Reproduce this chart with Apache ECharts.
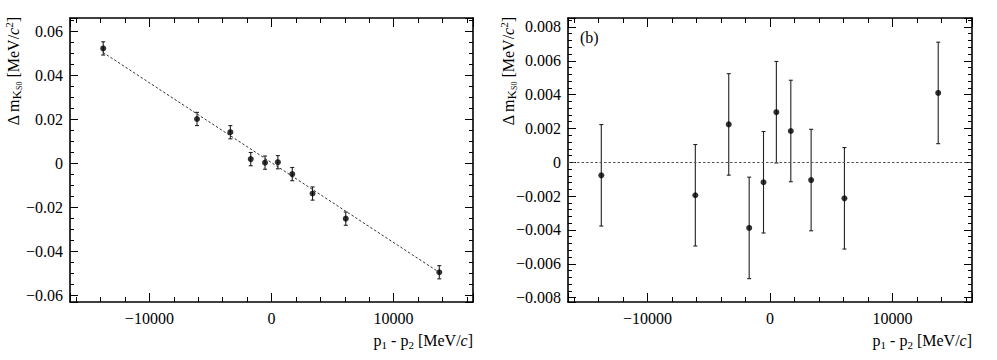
<!DOCTYPE html>
<html>
<head>
<meta charset="utf-8">
<script src="https://cdn.jsdelivr.net/npm/echarts@6/dist/echarts.min.js"></script>
<style>
  html, body { margin: 0; padding: 0; background: #fff; }
  #main { width: 997px; height: 360px; }
</style>
</head>
<body>
<div id="main"></div>
<script>
// p1 - p2 bin centres [MeV/c], same bins in both panels
const momentumDiff = [-13780, -6100, -3370, -1700, -530, 520, 1700, 3360, 6080, 13740]
// panel (a): mass difference before correction
const massDiffA = [0.0521, 0.0201, 0.0141, 0.0019, 0.0003, 0.0005, -0.0049, -0.0137, -0.0251, -0.0494]
const errA = [0.003, 0.003, 0.003, 0.003, 0.003, 0.003, 0.003, 0.003, 0.003, 0.003]
// linear fit drawn over panel (a)
const fitX = [-13800, 13800]
const fitY = [0.0503, -0.0497]
// panel (b): after correction
const massDiffB = [-0.00077, -0.00195, 0.00224, -0.00388, -0.00118, 0.00296, 0.00185, -0.00105, -0.00213, 0.0041]
const errB = [0.003, 0.003, 0.003, 0.003, 0.003, 0.003, 0.003, 0.003, 0.003, 0.003]

const xRange = [-16500, 16500]
const yRangeA = [-0.0629, 0.0659]
const yRangeB = [-0.00826, 0.00853]

const serif = '"Liberation Serif", "DejaVu Serif", serif'
const myChart = echarts.init(document.getElementById('main'), null, { renderer: 'svg' })

const fmt = v => (v === 0 ? '0' : String(+v.toFixed(4)).replace('-', '\u2212'))

function xAxisPair(gridIndex) {
  const base = {
    gridIndex,
    type: 'value',
    min: xRange[0],
    max: xRange[1],
    minInterval: 10000,
    maxInterval: 10000,
    splitLine: { show: false },
    axisLine: { show: true, onZero: false, lineStyle: { color: '#000', width: 1.6 } },
    axisTick: { show: true, inside: true, length: 9, lineStyle: { color: '#000', width: 1 } },
    minorTick: { show: true, splitNumber: 5, length: 5, lineStyle: { color: '#000', width: 1 } }
  }
  return [
    Object.assign({}, base, {
      position: 'bottom',
      axisLabel: {
        show: true, margin: 8, color: '#000', fontFamily: serif, fontSize: 16,
        showMinLabel: false, showMaxLabel: false, formatter: fmt
      }
    }),
    Object.assign({}, base, { position: 'top', axisLabel: { show: false } })
  ]
}

function yAxisPair(gridIndex, range, step, minorSplit) {
  const base = {
    gridIndex,
    type: 'value',
    min: range[0],
    max: range[1],
    minInterval: step,
    maxInterval: step,
    splitLine: { show: false },
    axisLine: { show: true, onZero: false, lineStyle: { color: '#000', width: 1.6 } },
    axisTick: { show: true, inside: true, length: 8, lineStyle: { color: '#000', width: 1 } },
    minorTick: { show: true, splitNumber: minorSplit, length: 4, lineStyle: { color: '#000', width: 1 } }
  }
  return [
    Object.assign({}, base, {
      position: 'left',
      axisLabel: {
        show: true, margin: 7, color: '#000', fontFamily: serif, fontSize: 16,
        showMinLabel: false, showMaxLabel: false, formatter: fmt
      }
    }),
    Object.assign({}, base, { position: 'right', axisLabel: { show: false } })
  ]
}

function errorBars(params, api) {
  const x = api.value(0)
  const lo = api.coord([x, api.value(1)])
  const hi = api.coord([x, api.value(2)])
  const cap = 2
  const style = { stroke: '#222', lineWidth: 1.1 }
  return {
    type: 'group',
    children: [
      { type: 'line', shape: { x1: lo[0], y1: lo[1], x2: hi[0], y2: hi[1] }, style },
      { type: 'line', shape: { x1: lo[0] - cap, y1: lo[1], x2: lo[0] + cap, y2: lo[1] }, style },
      { type: 'line', shape: { x1: hi[0] - cap, y1: hi[1], x2: hi[0] + cap, y2: hi[1] }, style }
    ]
  }
}

const rich = {
  n: { fontFamily: serif, fontSize: 16, lineHeight: 20, fill: '#000' },
  i: { fontFamily: serif, fontSize: 16, fontStyle: 'italic', lineHeight: 20, fill: '#000' },
  sub: { fontFamily: serif, fontSize: 11, lineHeight: 10, verticalAlign: 'bottom', fill: '#000' },
  sup: { fontFamily: serif, fontSize: 11, lineHeight: 10, verticalAlign: 'top', fill: '#000' },
  k: { fontFamily: serif, fontSize: 13, lineHeight: 12, verticalAlign: 'bottom', fill: '#000' },
  ks: { fontFamily: serif, fontSize: 8, lineHeight: 4, verticalAlign: 'bottom', fill: '#000' },
  kz: { fontFamily: serif, fontSize: 8, lineHeight: 19, verticalAlign: 'bottom', fill: '#000' }
}
const yTitle = '{n|\u0394 m}{k|K}{ks|S}{kz|0}{n| [MeV/}{i|c}{sup|2}{n|]}'
const xTitle = '{n|p}{sub|1}{n| - p}{sub|2}{n| [MeV/}{i|c}{n|]}'

function titleText(text, x, y, rotation, align) {
  return {
    type: 'text', x, y, rotation, silent: true,
    style: { text, rich, fill: '#000', fontFamily: serif, fontSize: 16, align, verticalAlign: 'middle' }
  }
}

const option = {
  backgroundColor: '#fff',
  animation: false,
  grid: [
    { left: 70, top: 18, width: 403, height: 284 },
    { left: 568, top: 18, width: 404, height: 284 }
  ],
  xAxis: xAxisPair(0).concat(xAxisPair(1)),
  yAxis: yAxisPair(0, yRangeA, 0.02, 4).concat(yAxisPair(1, yRangeB, 0.002, 5)),
  graphic: [
    titleText(yTitle, 13, 17, Math.PI / 2, 'right'),
    titleText(yTitle, 508, 17, Math.PI / 2, 'right'),
    titleText(xTitle, 473, 340, 0, 'right'),
    titleText(xTitle, 972, 340, 0, 'right'),
    {
      type: 'text', x: 580, y: 37, silent: true,
      style: { text: '(b)', fill: '#000', fontFamily: serif, fontSize: 16, align: 'left', verticalAlign: 'middle' }
    }
  ],
  series: [
    {
      type: 'line',
      xAxisIndex: 0, yAxisIndex: 0,
      data: fitX.map((x, i) => [x, fitY[i]]),
      symbol: 'none',
      lineStyle: { color: '#333', width: 1, type: [2.5, 2] },
      z: 1
    },
    {
      type: 'custom',
      xAxisIndex: 0, yAxisIndex: 0,
      data: momentumDiff.map((x, i) => [x, massDiffA[i] - errA[i], massDiffA[i] + errA[i]]),
      encode: { x: 0, y: [1, 2] },
      renderItem: errorBars,
      z: 2
    },
    {
      type: 'scatter',
      xAxisIndex: 0, yAxisIndex: 0,
      data: momentumDiff.map((x, i) => [x, massDiffA[i]]),
      symbolSize: 6,
      itemStyle: { color: '#000' },
      z: 3
    },
    {
      type: 'custom',
      xAxisIndex: 2, yAxisIndex: 2,
      data: momentumDiff.map((x, i) => [x, massDiffB[i] - errB[i], massDiffB[i] + errB[i]]),
      encode: { x: 0, y: [1, 2] },
      renderItem: errorBars,
      z: 2
    },
    {
      type: 'scatter',
      xAxisIndex: 2, yAxisIndex: 2,
      data: momentumDiff.map((x, i) => [x, massDiffB[i]]),
      symbolSize: 6,
      itemStyle: { color: '#000' },
      markLine: {
        silent: true,
        symbol: ['none', 'none'],
        label: { show: false },
        lineStyle: { color: '#555', width: 1, type: [2.5, 2] },
        data: [{ yAxis: 0 }]
      },
      z: 3
    }
  ]
}

myChart.setOption(option)
</script>
</body>
</html>
